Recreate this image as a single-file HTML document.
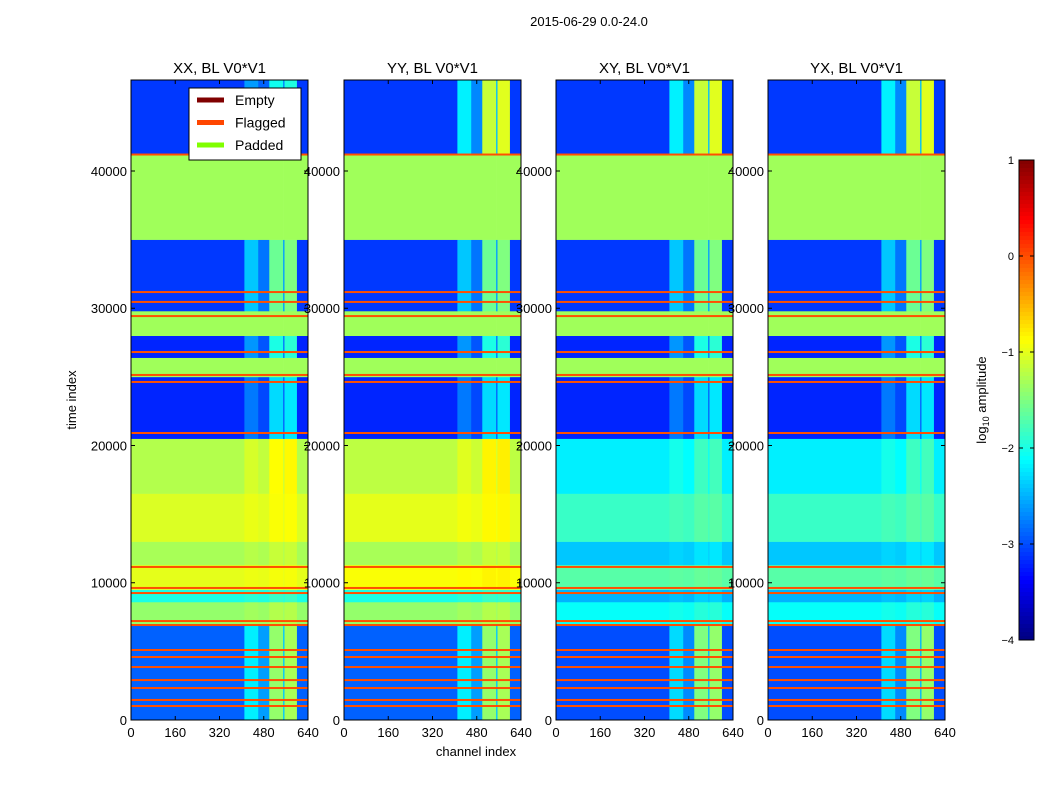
<!DOCTYPE html>
<html><head><meta charset="utf-8"><style>
body{margin:0;background:#fff;}
svg{font-family:"Liberation Sans",sans-serif;}
</style></head><body>
<svg id="fig" width="1050" height="800" xmlns="http://www.w3.org/2000/svg">
<rect width="1050" height="800" fill="#fff"/>
<text x="589" y="26" font-size="13" text-anchor="middle">2015-06-29 0.0-24.0</text>
<text x="76" y="400" font-size="13" text-anchor="middle" transform="rotate(-90 76 400)">time index</text>
<text x="476" y="756" font-size="13" text-anchor="middle">channel index</text>
<g id="panels"></g>
<g id="cbar"></g>
</svg>
<script>
// ---- data ----
const pols = ["XX","YY","XY","YX"];
const bandStart = [0,7000,8600,9500,11300,13000,16500,20500,25000,26400,28000,29800,35000,41200];
const bandEnd   = [7000,8600,9500,11300,13000,16500,20500,25000,26400,28000,29800,35000,41200,46600];
const bandPadded= [0,0,0,0,0,0,0,0,1,0,1,0,1,0];
const levelXX = [-2.9,-1.4,-2.0,-1.0,-1.3,-1.05,-1.25,-3.2,-1.2,-3.2,-1.2,-3.1,-1.2,-3.1];
const levelYY = [-2.9,-1.4,-2.0,-0.9,-1.3,-1.0,-1.2,-3.2,-1.2,-3.2,-1.2,-3.1,-1.2,-3.1];
const levelXY = [-3.0,-2.1,-2.5,-1.7,-2.4,-1.85,-2.2,-3.2,-1.2,-3.2,-1.2,-3.1,-1.2,-3.1];
const levelYX = [-3.0,-2.1,-2.5,-1.7,-2.4,-1.85,-2.2,-3.2,-1.2,-3.2,-1.2,-3.1,-1.2,-3.1];
const bandColWeight = [1.0,0.1,0.1,0.05,0.1,0.1,0.25,0.6,0,0.8,0,1.0,0,0.6];
const topColWeight = [0.7,1.3,1.3,1.3];
const segStart = [0,410,460,500,550,555,600];
const segEnd   = [410,460,500,550,555,600,640];
const segBoost = [0,0.7,0.3,1.5,0.5,1.6,0];
const flagRows = [1020,1460,2330,2910,3860,4590,5100,6920,7210,9250,9620,11150,20910,24630,25140,26810,29430,30460,31180,41200];
const xTicks = [0,160,320,480,640];
const yTicks = [0,10000,20000,30000,40000];
const cbTicks = [1,0,-1,-2,-3,-4];
// ---- layout ----
const panelX = [131,344,556,768], pw=177, y0=720, yTop=80;
const tMax = 46630;
const NS="http://www.w3.org/2000/svg";
function el(t,a,p){const e=document.createElementNS(NS,t);for(const k in a)e.setAttribute(k,a[k]);p.appendChild(e);return e;}
function jet(v){v=Math.max(0,Math.min(1,v));
 const r=Math.max(0,Math.min(1,1.5-Math.abs(4*v-3))),g=Math.max(0,Math.min(1,1.5-Math.abs(4*v-2))),b=Math.max(0,Math.min(1,1.5-Math.abs(4*v-1)));
 return `rgb(${Math.round(r*255)},${Math.round(g*255)},${Math.round(b*255)})`;}
function lvColor(l){return jet((l+4)/5);}
const levels=[levelXX,levelYY,levelXY,levelYX];
const G=document.getElementById('panels');
pols.forEach((p,pi)=>{
 const px=panelX[pi];
 const sx=c=>px+c/640*pw, sy=t=>y0-t/tMax*(y0-yTop);
 const g=el('g',{},G);
 
 
 for(let b=0;b<bandStart.length;b++){
  const ya=sy(bandEnd[b]), yb=sy(bandStart[b]);
  const w = b===bandStart.length-1 ? topColWeight[pi] : bandColWeight[b];
  for(let s=0;s<segStart.length;s++){
   let col = bandPadded[b] ? "rgb(160,255,90)" : lvColor(levels[pi][b]+segBoost[s]*w);
   const r=el('rect',{x:sx(segStart[s]),y:ya,width:sx(segEnd[s])-sx(segStart[s])+0.3,height:yb-ya+0.3,fill:col},g);
   
   
  }
 }
 flagRows.forEach(t=>{
  const r=el('rect',{x:px,y:sy(t)-1,width:pw,height:2,fill:"rgb(255,80,0)"},g);
  
  
 });
 el('rect',{x:px,y:yTop,width:pw,height:y0-yTop,fill:'none',stroke:'#000','stroke-width':1},g);
 const tt=el('text',{x:px+pw/2,y:73,'font-size':15,'text-anchor':'middle'},g);tt.textContent=p+', BL V0*V1';
 
 
 xTicks.forEach(v=>{const x=sx(v);el('line',{x1:x,x2:x,y1:y0,y2:y0-4,stroke:'#000'},g);el('line',{x1:x,x2:x,y1:yTop,y2:yTop+4,stroke:'#000'},g);
  const t=el('text',{x:x,y:y0+17,'font-size':13,'text-anchor':'middle'},g);t.textContent=v;
  
  });
 yTicks.forEach(v=>{const y=sy(v);el('line',{x1:px,x2:px+4,y1:y,y2:y,stroke:'#000'},g);el('line',{x1:px+pw,x2:px+pw-4,y1:y,y2:y,stroke:'#000'},g);
  const t=el('text',{x:px-4,y:y+5,'font-size':13,'text-anchor':'end'},g);t.textContent=v;
  
  });
});
// legend
const L=el('g',{},G);


el('rect',{x:189,y:88,width:112,height:72,fill:'#fff',stroke:'#000'},L);
[["Empty","rgb(128,0,0)"],["Flagged","rgb(255,70,0)"],["Padded","rgb(128,255,0)"]].forEach((e,i)=>{
 const y=100+i*22.5;
 el('line',{x1:197,x2:224,y1:y,y2:y,stroke:e[1],'stroke-width':5},L);
 const t=el('text',{x:235,y:y+5,'font-size':14},L);t.textContent=e[0];
 
 
});
// colorbar
const C=document.getElementById('cbar');
const cx=1019,cw=15,cyT=160,cyB=640;
for(let i=0;i<120;i++){el('rect',{x:cx,y:cyT+i*4,width:cw,height:4.3,fill:jet(1-i/120-1/240)},C);}
el('rect',{x:cx,y:cyT,width:cw,height:cyB-cyT,fill:'none',stroke:'#000'},C);
cbTicks.forEach(v=>{const y=cyB-(v+4)/5*(cyB-cyT);el('line',{x1:cx+cw-4,x2:cx+cw,y1:y,y2:y,stroke:'#000'},C);el('line',{x1:cx,x2:cx+4,y1:y,y2:y,stroke:'#000'},C);
 const t=el('text',{x:cx-5,y:y+4,'font-size':11,'text-anchor':'end'},C);t.textContent=(v<0?'\u2212'+(-v):v);
 
 });
const cl=el('text',{x:986,y:400,'font-size':13,'text-anchor':'middle',transform:'rotate(-90 986 400)'},C);
cl.innerHTML='log<tspan font-size="9" dy="3">10</tspan><tspan dy="-3"> amplitude</tspan>';




</script>
</body></html>
